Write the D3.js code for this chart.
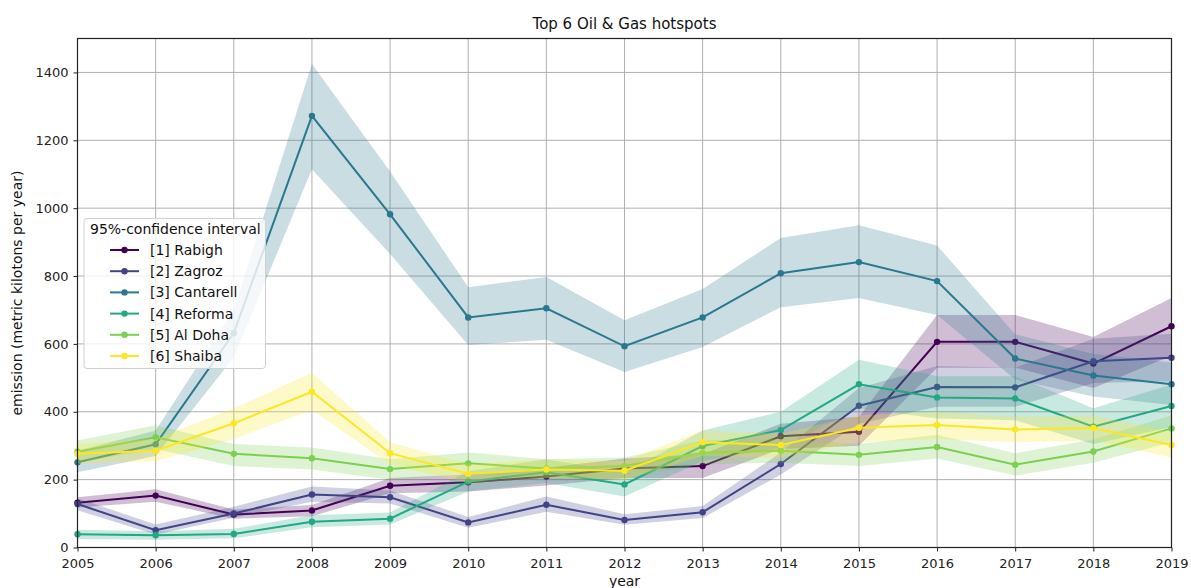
<!DOCTYPE html>
<html><head><meta charset="utf-8">
<script src="https://cdn.jsdelivr.net/npm/d3@7"></script>
<style>body{margin:0;background:#fff;} svg{display:block;font-family:"DejaVu Sans",sans-serif;}</style>
</head><body>
<svg id="chart" width="1191" height="588"></svg>
<script>
const years = [2005,2006,2007,2008,2009,2010,2011,2012,2013,2014,2015,2016,2017,2018,2019];
const seriesNames = ["[1] Rabigh","[2] Zagroz","[3] Cantarell","[4] Reforma","[5] Al Doha","[6] Shaiba"];
const colors = ["#440154","#414487","#2a788e","#22a884","#7ad151","#fde725"];

const rabigh    = [132,153,97,109,182,192,209,233,240,328,341,606,606,542,652];
const zagroz    = [128,51,100,156,148,74,126,81,104,246,418,473,472,549,559];
const cantarell = [251,304,632,1272,982,678,705,593,678,808,841,785,557,507,481];
const reforma   = [39,36,40,76,85,194,222,186,299,346,481,442,439,356,417];
const alDoha    = [282,325,276,263,231,248,233,240,279,285,273,296,244,283,351];
const shaiba    = [276,285,366,459,278,217,230,226,310,302,353,361,348,352,302];

const rabighLo    = [118,135,85,92,160,165,183,205,205,290,300,530,530,470,565];
const rabighHi    = [148,172,112,125,205,215,235,262,275,365,385,685,685,620,735];
const zagrozLo    = [110,38,88,135,130,58,105,67,87,215,365,415,415,485,490];
const zagrozHi    = [145,68,120,180,168,90,150,98,122,280,470,535,530,615,630];
const cantarellLo = [222,270,560,1115,865,597,612,517,591,708,735,685,495,445,420];
const cantarellHi = [285,345,700,1425,1108,767,797,670,762,912,950,890,628,570,545];
const reformaLo   = [25,23,27,60,68,165,190,150,255,295,410,380,375,305,355];
const reformaHi   = [52,48,55,95,103,225,260,220,345,400,553,505,505,410,480];
const alDohaLo    = [250,290,240,230,200,215,205,205,245,250,240,262,212,250,310];
const alDohaHi    = [315,360,305,295,260,280,260,265,315,320,305,332,278,318,390];
const shaibaLo    = [245,255,320,405,245,190,205,200,270,265,310,320,310,315,265];
const shaibaHi    = [305,320,410,515,310,245,260,255,345,335,390,400,385,390,340];

const xTicks = years;
const yTicks = [0,200,400,600,800,1000,1200,1400];

const series = [
  {name:seriesNames[0], v:rabigh, lo:rabighLo, hi:rabighHi},
  {name:seriesNames[1], v:zagroz, lo:zagrozLo, hi:zagrozHi},
  {name:seriesNames[2], v:cantarell, lo:cantarellLo, hi:cantarellHi},
  {name:seriesNames[3], v:reforma, lo:reformaLo, hi:reformaHi},
  {name:seriesNames[4], v:alDoha, lo:alDohaLo, hi:alDohaHi},
  {name:seriesNames[5], v:shaiba, lo:shaibaLo, hi:shaibaHi}
];

const L=77.5, R=1171.5, T=38.5, B=547.5;
const x = d3.scaleLinear().domain([2005,2019]).range([L,R]);
const y = d3.scaleLinear().domain([0,1500]).range([B,T]);
const svg = d3.select("#chart");

// grid
const g = svg.append("g");
g.selectAll(".gx").data(xTicks).join("line")
  .attr("x1",d=>x(d)).attr("x2",d=>x(d)).attr("y1",T).attr("y2",B)
  .attr("stroke","#b0b0b0").attr("stroke-width",1);
g.selectAll(".gy").data(yTicks).join("line")
  .attr("y1",d=>y(d)).attr("y2",d=>y(d)).attr("x1",L).attr("x2",R)
  .attr("stroke","#b0b0b0").attr("stroke-width",1);

// series
const plot = svg.append("g");
series.forEach((s,i)=>{
  const pts = years.map((yr,j)=>({yr, v:s.v[j], lo:s.lo[j], hi:s.hi[j]}));
  const area = d3.area().x(d=>x(d.yr)).y0(d=>y(d.lo)).y1(d=>y(d.hi));
  const line = d3.line().x(d=>x(d.yr)).y(d=>y(d.v));
  plot.append("path").attr("d",line(pts)).attr("fill","none")
    .attr("stroke",colors[i]).attr("stroke-width",2);
  plot.selectAll(null).data(pts).join("circle")
    .attr("cx",d=>x(d.yr)).attr("cy",d=>y(d.v)).attr("r",3.2).attr("fill",colors[i]);
  plot.append("path").attr("d",area(pts)).attr("fill",colors[i]).attr("fill-opacity",0.25);
});

// axes
const xAxis = d3.axisBottom(x).tickValues(xTicks).tickFormat(d3.format("d")).tickSize(4).tickPadding(7);
const yAxis = d3.axisLeft(y).tickValues(yTicks).tickFormat(d3.format("d")).tickSize(4).tickPadding(5);
const xa = svg.append("g").attr("transform",`translate(0,${B})`).call(xAxis);
const ya = svg.append("g").attr("transform",`translate(${L},0)`).call(yAxis);
[xa,ya].forEach(a=>{
  a.select(".domain").remove();
  a.selectAll("text").attr("font-size",13).attr("fill","#222").attr("font-family","DejaVu Sans");
  a.selectAll("line").attr("stroke","#222");
});
svg.append("rect").attr("x",L).attr("y",T).attr("width",R-L).attr("height",B-T)
  .attr("fill","none").attr("stroke","#222").attr("stroke-width",1.2);

// labels
svg.append("text").attr("x",(L+R)/2).attr("y",29).attr("text-anchor","middle")
  .attr("font-size",15).attr("fill","#111").text("Top 6 Oil & Gas hotspots");
svg.append("text").attr("x",(L+R)/2).attr("y",586).attr("text-anchor","middle")
  .attr("font-size",14).attr("fill","#111").text("year");
svg.append("text").attr("transform",`translate(22,${(T+B)/2}) rotate(-90)`).attr("text-anchor","middle")
  .attr("font-size",14).attr("fill","#111").text("emission (metric kilotons per year)");

// legend
const lg = svg.append("g");
lg.append("rect").attr("x",84).attr("y",218.5).attr("width",181.5).attr("height",150)
  .attr("rx",3).attr("fill","#fff").attr("fill-opacity",0.8).attr("stroke","#d0d0d0");
lg.append("text").attr("x",90).attr("y",234).attr("font-size",14).attr("fill","#111").text("95%-confidence interval");
series.forEach((s,i)=>{
  const yy = 250 + i*21.2;
  lg.append("line").attr("x1",110).attr("x2",139).attr("y1",yy).attr("y2",yy)
    .attr("stroke",colors[i]).attr("stroke-width",2);
  lg.append("circle").attr("cx",124.5).attr("cy",yy).attr("r",3.2).attr("fill",colors[i]);
  lg.append("text").attr("x",150).attr("y",yy+5).attr("font-size",14).attr("fill","#111").text(s.name);
});
</script>
</body></html>
